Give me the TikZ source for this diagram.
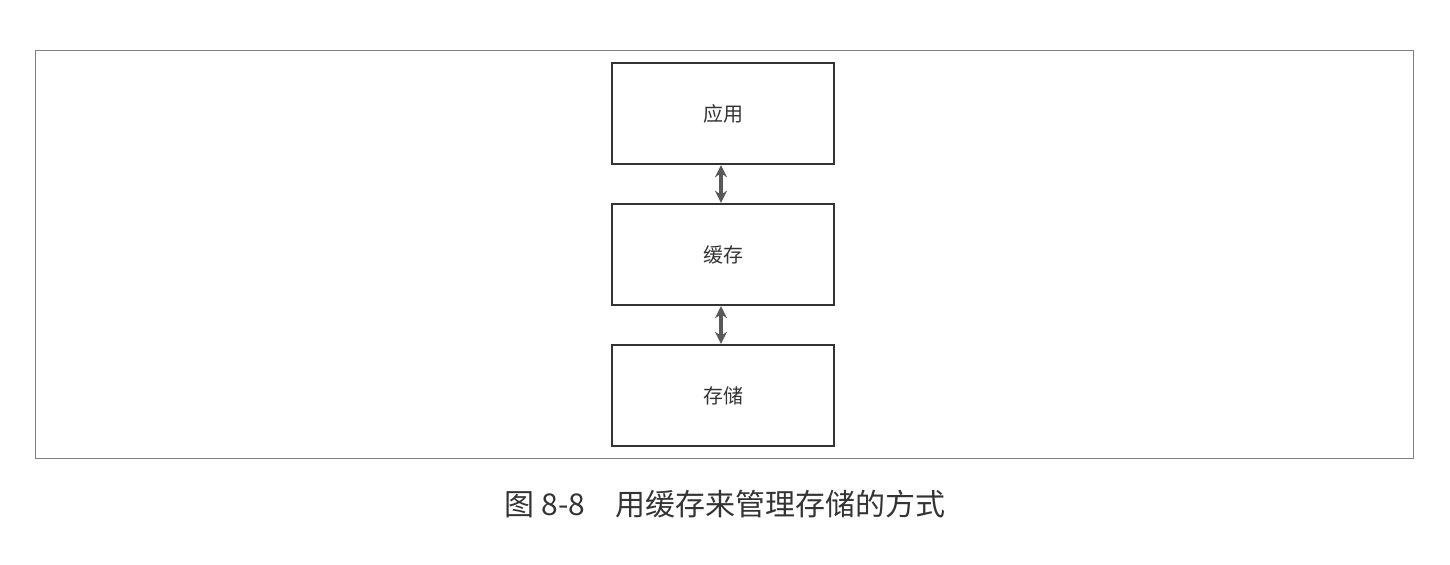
\documentclass[tikz,border=0pt]{standalone}
\usepackage{fontspec}
\newfontfamily\cjk{Noto Sans CJK SC}
\usetikzlibrary{arrows.meta}
\begin{document}
\begin{tikzpicture}[x=0.5pt,y=-0.5pt,
  box/.style={draw=black!80,line width=1.2pt,minimum width=111pt,minimum height=50.5pt,inner sep=0pt,font=\cjk\fontsize{10}{12}\selectfont,text=black!80},
  link/.style={draw=black!65,line width=1.8pt,{Stealth[length=6pt,width=6pt]}-{Stealth[length=6pt,width=6pt]}}]
\useasboundingbox (0,0) rectangle (1450,564);
\draw[black!50,line width=0.5pt] (35,50) rectangle (1413,458);
\node[box] (app) at (723,113.5) {应用};
\node[box] (cache) at (723,254.5) {缓存};
\node[box] (store) at (723,395.5) {存储};
\draw[link] (app.south -| 721,0) -- (cache.north -| 721,0);
\draw[link] (cache.south -| 721,0) -- (store.north -| 721,0);
\node[font=\cjk\fontsize{15}{18}\selectfont,text=black!80] (cap) at (725,504) {图 8-8\quad 用缓存来管理存储的方式};
\end{tikzpicture}
\end{document}
